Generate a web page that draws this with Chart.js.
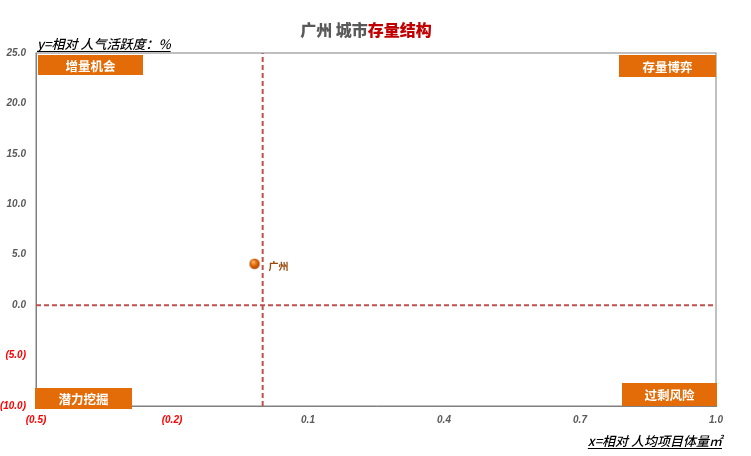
<!DOCTYPE html>
<html><head><meta charset="utf-8">
<script src="https://cdn.jsdelivr.net/npm/chart.js@4"></script>
<style>html,body{margin:0;padding:0;background:#fff}#wrap{width:751px;height:456px}</style>
</head><body><div id="wrap"><canvas id="c" width="751" height="456"></canvas></div>
<script>
const cityNames = ['广州'];
const cityX = [-0.018];
const cityY = [4.1];
const xTicks = [-0.5, -0.2, 0.1, 0.4, 0.7, 1.0];
const yTicks = [25, 20, 15, 10, 5, 0, -5, -10];
const refX = 0;
const refY = 0;
const quadrantLabels = ['增量机会', '存量博弈', '潜力挖掘', '过剩风险'];
const titleParts = ['广州 城市', '存量结构'];
const yTitle = 'y=相对 人气活跃度：%';
const xTitle = 'x=相对 人均项目体量㎡';

const CJK = '"Noto Sans CJK SC", "Noto Sans", sans-serif';
const fmt = v => { const s = Math.abs(v).toFixed(1); return v < 0 ? '(' + s + ')' : s; };

// sphere point image
const ball = document.createElement('canvas');
ball.width = 12; ball.height = 12;
(function(){
  const g = ball.getContext('2d');
  const gr = g.createRadialGradient(4.5,4,0.5,6,6,6);
  gr.addColorStop(0,'#F9B26B'); gr.addColorStop(0.45,'#E36C09'); gr.addColorStop(1,'#9A3B00');
  g.fillStyle = gr; g.beginPath(); g.arc(6,6,5.2,0,Math.PI*2); g.fill();
})();

const deco = {
  id:'deco',
  beforeDatasetsDraw(chart){
    const {ctx, chartArea:a} = chart;
    ctx.save();
    ctx.strokeStyle = '#808080'; ctx.lineWidth = 1;
    ctx.strokeRect(a.left, a.top, a.right - a.left, a.bottom - a.top);
    ctx.restore();
  },
  afterDatasetsDraw(chart){
    const {ctx, chartArea:a, scales} = chart;
    ctx.save();
    // quadrant boxes
    const boxes = [
      [a.left+2, a.top+2, 105, 20],
      [a.right-97, a.top+2, 97, 22],
      [a.left-1, a.bottom-18, 97, 21],
      [a.right-94, a.bottom-23, 95, 23]
    ];
    ctx.font = 'bold 12.5px ' + CJK;
    ctx.textAlign = 'center'; ctx.textBaseline = 'middle';
    boxes.forEach((b,i) => {
      ctx.fillStyle = '#E36C09';
      ctx.fillRect(b[0], b[1], b[2], b[3]);
      ctx.fillStyle = '#FFFFFF';
      ctx.fillText(quadrantLabels[i], b[0] + b[2]/2, b[1] + b[3]/2 + 1);
    });
    // city labels
    ctx.font = 'bold 10px ' + CJK;
    ctx.fillStyle = '#984807';
    ctx.textAlign = 'left';
    cityNames.forEach((n,i) => {
      const px = scales.x.getPixelForValue(cityX[i]);
      const py = scales.y.getPixelForValue(cityY[i]);
      ctx.fillText(n, px + 14, py + 2);
    });
    // title
    ctx.font = '900 16px ' + CJK;
    ctx.textBaseline = 'alphabetic';
    const w1 = ctx.measureText(titleParts[0]).width;
    const w2 = ctx.measureText(titleParts[1]).width;
    let tx = 366 - (w1 + w2)/2;
    ctx.fillStyle = '#595959'; ctx.fillText(titleParts[0], tx, 36);
    ctx.fillStyle = '#C00000'; ctx.fillText(titleParts[1], tx + w1, 36);
    // axis titles
    ctx.font = 'italic 500 13px ' + CJK;
    ctx.fillStyle = '#000000';
    const yw = ctx.measureText(yTitle).width;
    ctx.fillText(yTitle, 37, 49);
    ctx.fillRect(37, 51, yw, 1);
    ctx.textAlign = 'right';
    const xw = ctx.measureText(xTitle).width;
    ctx.fillText(xTitle, 722, 446);
    ctx.fillRect(722 - xw, 448, xw, 1);
    ctx.restore();
  }
};

const refStyle = { borderColor:'#C0504D', borderWidth:2, borderDash:[5,3], pointRadius:0, showLine:true, fill:false };

new Chart(document.getElementById('c'), {
  type:'scatter',
  data:{
    datasets:[
      Object.assign({ data:[{x:refX,y:yTicks[yTicks.length-1]},{x:refX,y:yTicks[0]}] }, refStyle),
      Object.assign({ data:[{x:xTicks[0],y:refY},{x:xTicks[xTicks.length-1],y:refY}] }, refStyle),
      { data: cityX.map((x,i)=>({x, y:cityY[i]})), pointStyle: ball, pointRadius:6, pointHoverRadius:6 }
    ]
  },
  plugins:[deco],
  options:{
    responsive:false, animation:false, devicePixelRatio:1,
    layout:{ padding:{ left:0, right:35, top:53, bottom:0 } },
    plugins:{ legend:{display:false}, tooltip:{enabled:false}, title:{display:false} },
    scales:{
      x:{
        type:'linear', min:xTicks[0], max:xTicks[xTicks.length-1],
        afterBuildTicks(s){ s.ticks = xTicks.map(v=>({value:v})); },
        afterFit(s){ s.height = 50; },
        grid:{ display:false, drawTicks:false },
        border:{ display:true, color:'#808080', width:1 },
        ticks:{ padding:8, maxRotation:0, autoSkip:false,
          callback:v=>fmt(v),
          color:c => c.tick && c.tick.value < 0 ? '#FF0000' : '#595959',
          font:{ family:'"Liberation Sans", Arial, sans-serif', size:10, style:'italic', weight:'bold' } }
      },
      y:{
        type:'linear', min:yTicks[yTicks.length-1], max:yTicks[0],
        afterBuildTicks(s){ s.ticks = yTicks.map(v=>({value:v})); },
        afterFit(s){ s.width = 36; },
        grid:{ display:false, drawTicks:false },
        border:{ display:true, color:'#808080', width:1 },
        ticks:{ padding:10, autoSkip:false,
          callback:v=>fmt(v),
          color:c => c.tick && c.tick.value < 0 ? '#FF0000' : '#595959',
          font:{ family:'"Liberation Sans", Arial, sans-serif', size:10, style:'italic', weight:'bold' } }
      }
    }
  }
});
</script></body></html>
